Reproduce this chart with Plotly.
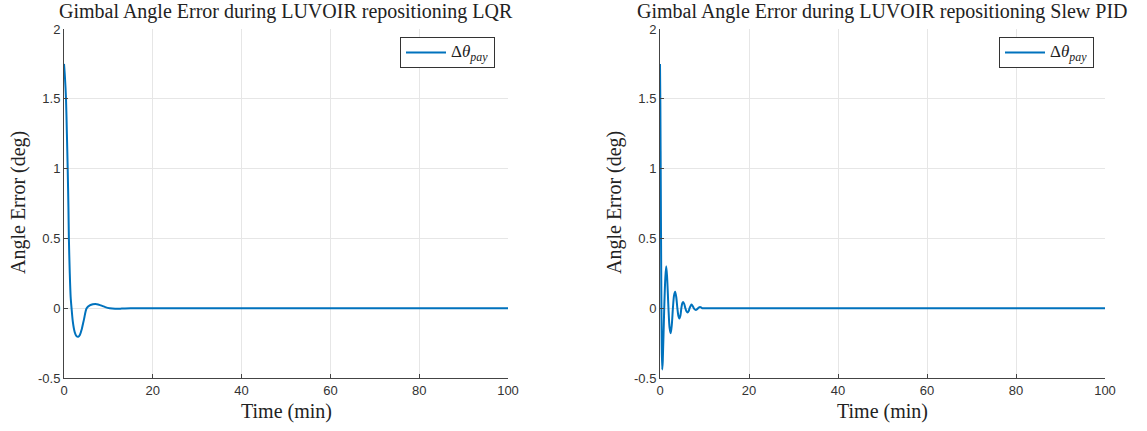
import plotly.graph_objects as go

W, H = 1147, 431

# ---- data ----
t_lqr = [0, 0.2, 0.45, 0.65, 0.83, 1.0, 1.1, 1.3, 1.5, 1.7, 2.0, 2.4, 2.8, 3.2, 3.6, 4.0, 4.5,
         5.1, 5.8, 6.5, 7.4, 8.3, 9.3, 10.3, 11.5, 13, 15, 20, 40, 60, 80, 100]
err_lqr = [1.75, 1.66, 1.50, 1.25, 1.00, 0.72, 0.50, 0.25, 0.08, 0.0, -0.10, -0.17, -0.20, -0.205,
           -0.19, -0.15, -0.08, 0.0, 0.02, 0.028, 0.029, 0.02, 0.008, 0.0, -0.004, -0.003, 0.0,
           0.0, 0.0, 0.0, 0.0, 0.0]

t_pid = [0, 0.08, 0.18, 0.28, 0.38, 0.5, 0.62, 0.95, 1.2, 1.4, 1.6, 1.9, 2.15, 2.4, 2.65, 2.9,
         3.15, 3.4, 3.65, 3.9, 4.1, 4.35, 4.6, 4.8, 5.0, 5.2, 5.45, 5.7, 5.95, 6.2, 6.45, 6.65,
         6.9, 7.1, 7.35, 7.6, 7.85, 8.1, 8.3, 8.55, 8.8, 9.0, 9.25, 9.5, 10.5, 12, 20, 40, 60, 80, 100]
err_pid = [1.75, 1.45, 0.85, 0.2, -0.25, -0.44, -0.38, 0.0, 0.22, 0.30, 0.22, 0.0, -0.14, -0.18,
           -0.12, 0.0, 0.09, 0.117, 0.08, 0.0, -0.05, -0.074, -0.05, 0.0, 0.035, 0.045, 0.03, 0.0,
           -0.022, -0.031, -0.02, 0.0, 0.018, 0.026, 0.016, 0.0, -0.009, -0.012, -0.008, 0.0,
           0.006, 0.008, 0.005, 0.0, 0.0, 0.0, 0.0, 0.0, 0.0, 0.0, 0.0]

titles = ["Gimbal Angle Error during LUVOIR repositioning LQR",
          "Gimbal Angle Error during LUVOIR repositioning Slew PID"]
x_ticks = [0, 20, 40, 60, 80, 100]
y_ticks = [-0.5, 0, 0.5, 1, 1.5, 2]
y_ticktext = ["-0.5", "0", "0.5", "1", "1.5", "2"]
legend_name = "<span style='font-size:17px'>Δ<i>θ</i><sub><i>pay</i></sub></span>"

LINE = "#0072BD"
SERIF = "Liberation Serif"
SANS = "Liberation Sans"

fig = go.Figure()
fig.add_trace(go.Scatter(x=t_lqr, y=err_lqr, mode="lines", name=legend_name,
                         line=dict(color=LINE, width=2, shape="spline", smoothing=0.8),
                         xaxis="x", yaxis="y", legend="legend"))
fig.add_trace(go.Scatter(x=t_pid, y=err_pid, mode="lines", name=legend_name,
                         line=dict(color=LINE, width=2, shape="spline", smoothing=0.8),
                         xaxis="x2", yaxis="y2", legend="legend2"))

ydom = [1 - 378 / H, 1 - 29 / H]
axis_common = dict(showline=True, linecolor="#444", linewidth=1, ticks="inside", ticklen=4,
                   tickcolor="#444", showgrid=True, gridcolor="#e6e6e6", gridwidth=1,
                   zeroline=False, tickfont=dict(family=SANS, size=13, color="#333"),
                   mirror=False, automargin=False)

leg_common = dict(y=1 - 37 / H, yanchor="top", bordercolor="#333", borderwidth=1,
                  bgcolor="white", font=dict(family=SERIF, size=12, color="#222"),
                  tracegroupgap=0, itemwidth=40)

fig.update_layout(
    width=W, height=H, margin=dict(l=0, r=0, t=0, b=0),
    paper_bgcolor="white", plot_bgcolor="white",
    xaxis=dict(domain=[64 / W, 508 / W], range=[0, 100], tickvals=x_ticks, anchor="y", **axis_common),
    yaxis=dict(domain=ydom, range=[-0.5, 2], tickvals=y_ticks, ticktext=y_ticktext, anchor="x", **axis_common),
    xaxis2=dict(domain=[660 / W, 1105 / W], range=[0, 100], tickvals=x_ticks, anchor="y2", **axis_common),
    yaxis2=dict(domain=ydom, range=[-0.5, 2], tickvals=y_ticks, ticktext=y_ticktext, anchor="x2", **axis_common),
    legend=dict(x=495 / W, xanchor="right", **leg_common),
    legend2=dict(x=1094 / W, xanchor="right", **leg_common),
    showlegend=True,
)

anns = []
for cx, title in [((64 + 508) / 2, titles[0]), ((660 + 1105) / 2, titles[1])]:
    anns.append(dict(text=title, x=cx / W, y=1 - 12 / H, xref="paper", yref="paper",
                     xanchor="center", yanchor="middle", showarrow=False,
                     font=dict(family=SERIF, size=20, color="#222")))
    anns.append(dict(text="Time (min)", x=cx / W, y=1 - 411 / H, xref="paper", yref="paper",
                     xanchor="center", yanchor="middle", showarrow=False,
                     font=dict(family=SERIF, size=20, color="#222")))
for lx in [19, 615]:
    anns.append(dict(text="Angle Error (deg)", x=lx / W, y=1 - 203 / H, xref="paper", yref="paper",
                     xanchor="center", yanchor="middle", showarrow=False, textangle=-90,
                     font=dict(family=SERIF, size=20, color="#222")))
fig.update_layout(annotations=anns)

fig.write_html("out.html")
